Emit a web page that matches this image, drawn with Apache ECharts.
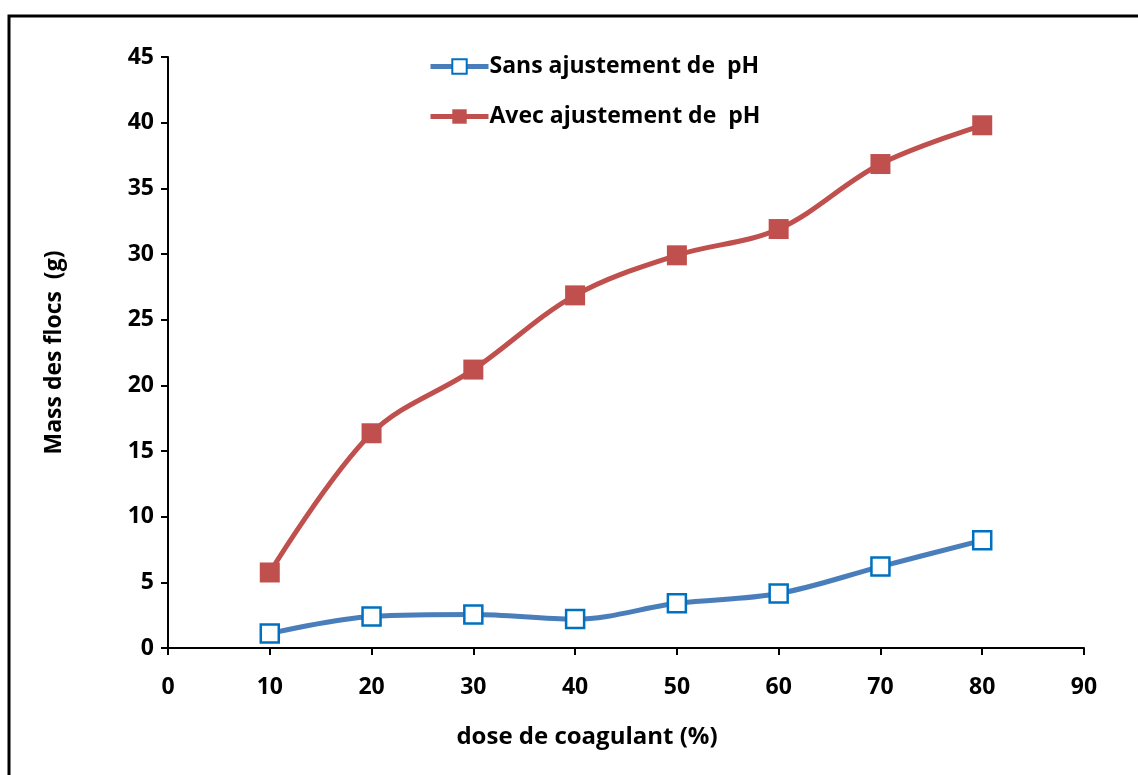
<!DOCTYPE html>
<html>
<head>
<meta charset="utf-8">
<script src="https://cdn.jsdelivr.net/npm/echarts@6/dist/echarts.min.js"></script>
<style>
  html, body { margin: 0; padding: 0; background: #fff; }
  #chart { width: 1138px; height: 775px; }
</style>
</head>
<body>
<div id="chart"></div>
<script>
// Dose de coagulant (%)
const doses = [10, 20, 30, 40, 50, 60, 70, 80];
// Masse des flocs (g)
const sansAjustement = [1.1, 2.4, 2.55, 2.2, 3.4, 4.15, 6.2, 8.2];
const avecAjustement = [5.75, 16.35, 21.2, 26.85, 29.9, 31.9, 36.85, 39.8];
const seriesNames = ['Sans ajustement de  pH', 'Avec ajustement de  pH'];

const FONT = '"Open Sans", "DejaVu Sans", sans-serif';
const BLUE_LINE = '#4a7ebb';
const BLUE_MARK = '#0070c0';
const RED = '#c0504d';

const chart = echarts.init(document.getElementById('chart'));

function pairs(xs, ys) {
  return xs.map((x, i) => [x, ys[i]]);
}

chart.setOption({
  animation: false,
  backgroundColor: '#fff',
  graphic: [{
    type: 'rect',
    shape: { x: 9, y: 16, width: 1300, height: 900 },
    style: { fill: 'none', stroke: '#000', lineWidth: 3 },
    silent: true
  }],
  grid: { left: 168, right: 54, top: 57, bottom: 127 },
  legend: {
    orient: 'vertical',
    left: 423,
    top: 50,
    itemWidth: 58,
    itemHeight: 18,
    itemGap: 27,
    textStyle: { fontFamily: FONT, fontWeight: 'bold', fontSize: 23, color: '#000', padding: [0, 0, 0, -4] },
    data: [
      { name: seriesNames[0], lineStyle: { width: 5, color: BLUE_LINE } },
      { name: seriesNames[1], lineStyle: { width: 5, color: RED } }
    ]
  },
  xAxis: {
    type: 'value',
    min: 0,
    max: 90,
    interval: 10,
    name: 'dose de coagulant (%)',
    nameLocation: 'middle',
    nameGap: 77,
    nameTextStyle: { fontFamily: FONT, fontWeight: 'bold', fontSize: 24, color: '#000', padding: [0, 78, 0, 0] },
    axisLine: { lineStyle: { color: '#000', width: 2 } },
    axisTick: { show: true, length: 7, lineStyle: { color: '#000', width: 2 } },
    axisLabel: { fontFamily: FONT, fontWeight: 'bold', fontSize: 23, color: '#000', margin: 28 },
    splitLine: { show: false }
  },
  yAxis: {
    type: 'value',
    min: 0,
    max: 45,
    interval: 5,
    name: 'Mass des flocs  (g)',
    nameLocation: 'middle',
    nameGap: 102,
    nameTextStyle: { fontFamily: FONT, fontWeight: 'bold', fontSize: 23, color: '#000' },
    axisLine: { show: true, lineStyle: { color: '#000', width: 2 } },
    axisTick: { show: true, length: 7, lineStyle: { color: '#000', width: 2 } },
    axisLabel: { fontFamily: FONT, fontWeight: 'bold', fontSize: 23, color: '#000', margin: 14 },
    splitLine: { show: false }
  },
  series: [
    {
      name: seriesNames[0],
      type: 'line',
      smooth: 0.35,
      data: pairs(doses, sansAjustement),
      symbol: 'rect',
      symbolSize: 18,
      lineStyle: { color: BLUE_LINE, width: 5 },
      itemStyle: { color: '#fff', borderColor: BLUE_MARK, borderWidth: 2.5 },
      z: 3
    },
    {
      name: seriesNames[1],
      type: 'line',
      smooth: 0.35,
      data: pairs(doses, avecAjustement),
      symbol: 'rect',
      symbolSize: 20,
      lineStyle: { color: RED, width: 5 },
      itemStyle: { color: RED, borderColor: RED, borderWidth: 0 },
      z: 2
    }
  ]
});
</script>
</body>
</html>
